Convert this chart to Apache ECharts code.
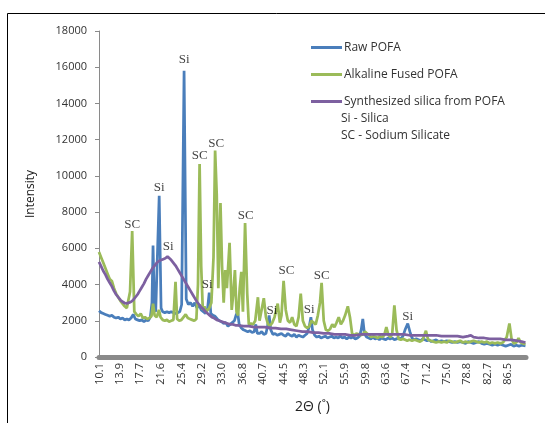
<!DOCTYPE html>
<html>
<head>
<meta charset="utf-8">
<script src="https://cdn.jsdelivr.net/npm/echarts@6/dist/echarts.min.js"></script>
<style>html,body{margin:0;padding:0;background:#fff;}#c{width:545px;height:423px;}</style>
</head>
<body>
<div id="c"></div>
<script>
const xTickLabels = [10.1,13.9,17.7,21.6,25.4,29.2,33.0,36.8,40.7,44.5,48.3,52.1,55.9,59.8,63.6,67.4,71.2,75.0,78.8,82.7,86.5];
const seriesNames = ['Raw POFA','Alkaline Fused POFA','Synthesized silica from POFA'];
const noteLines = ['Si - Silica','SC - Sodium Silicate'];

const rawPofa = [[10.0,2550],[10.4,2450],[10.8,2400],[11.2,2350],[11.6,2300],[12.0,2250],[12.4,2300],[12.8,2200],[13.2,2150],[13.6,2200],[14.0,2100],[14.4,2150],[14.8,2050],[15.2,2100],[15.6,2050],[16.0,2150],[16.4,2350],[16.8,2100],[17.2,2050],[17.6,2000],[18.0,2050],[18.4,1950],[18.8,2050],[19.2,2000],[19.6,2200],[19.9,3000],[20.1,6150],[20.35,2700],[20.6,2500],[20.9,2600],[21.25,8900],[21.6,2700],[21.9,2500],[22.3,2450],[22.7,2500],[23.1,2450],[23.5,2500],[23.9,2450],[24.3,2400],[24.7,2450],[25.1,2500],[25.45,2900],[25.9,15800],[26.3,3200],[26.7,2900],[27.1,3000],[27.5,2800],[27.9,3000],[28.3,2700],[28.7,2900],[29.1,2600],[29.5,2500],[29.9,2400],[30.3,2700],[30.6,3550],[30.9,2400],[31.3,2300],[31.7,2250],[32.1,2100],[32.5,2000],[32.9,1950],[33.3,1850],[33.7,1900],[34.1,1700],[34.5,1800],[34.9,1900],[35.3,2000],[35.6,2300],[35.9,2500],[36.2,1800],[36.6,1600],[37.0,1500],[37.4,1450],[37.8,1400],[38.2,1450],[38.6,1350],[39.0,1400],[39.3,1800],[39.6,1300],[40.0,1300],[40.4,1400],[40.8,1250],[41.2,1300],[41.5,1700],[41.8,2300],[42.1,1500],[42.5,1250],[42.9,1300],[43.3,1200],[43.7,1250],[44.1,1300],[44.5,1200],[44.9,1150],[45.3,1300],[45.7,1200],[46.1,1150],[46.5,1250],[46.9,1100],[47.3,1200],[47.7,1150],[48.1,1100],[48.5,1200],[48.9,1300],[49.3,1700],[49.6,2200],[49.9,1500],[50.3,1200],[50.7,1100],[51.1,1150],[51.5,1050],[51.9,1100],[52.3,1150],[52.7,1050],[53.1,1100],[53.5,1150],[53.9,1050],[54.3,1100],[54.7,1050],[55.1,1150],[55.5,1050],[55.9,1100],[56.3,1000],[56.7,1100],[57.1,1050],[57.5,1100],[57.9,1000],[58.3,1050],[58.7,1150],[59.0,1500],[59.3,2100],[59.6,1300],[60.0,1100],[60.4,1050],[60.8,1000],[61.2,1100],[61.6,1000],[62.0,1050],[62.4,950],[62.8,1050],[63.2,1000],[63.6,950],[64.0,1050],[64.4,1000],[64.8,1050],[65.2,950],[65.6,1000],[66.0,1050],[66.4,1000],[66.8,1150],[67.2,1500],[67.7,1850],[68.1,1400],[68.5,1050],[68.9,950],[69.3,1000],[69.7,950],[70.1,900],[70.5,1000],[70.9,950],[71.3,900],[71.7,950],[72.1,850],[72.5,900],[73.0,950],[73.5,850],[74.0,900],[74.5,850],[75.0,900],[75.5,850],[76.0,800],[76.5,850],[77.0,800],[77.5,850],[78.0,800],[78.5,750],[79.0,850],[79.5,800],[80.0,750],[80.5,800],[81.0,850],[81.5,750],[82.0,700],[82.5,750],[83.0,700],[83.5,650],[84.0,700],[84.5,650],[85.0,700],[85.5,650],[86.0,600],[86.5,650],[87.0,700],[87.5,600],[88.0,650],[88.5,600],[89.0,650],[89.7,620]];

const alkalineFused = [[10.0,5800],[10.4,5500],[10.8,5200],[11.2,4900],[11.6,4600],[12.0,4300],[12.4,4200],[12.8,3800],[13.2,3500],[13.6,3300],[14.0,3100],[14.4,2950],[14.8,2800],[15.2,2700],[15.5,2650],[15.8,3600],[16.2,6950],[16.6,2500],[17.0,2350],[17.4,2250],[17.8,2400],[18.2,2150],[18.6,2200],[19.0,2100],[19.4,2150],[19.8,2250],[20.1,2950],[20.4,2300],[20.8,2200],[21.2,2600],[21.5,2200],[21.9,2050],[22.3,2000],[22.7,2050],[23.1,1950],[23.5,2000],[23.9,2050],[24.3,4150],[24.6,2100],[25.0,2000],[25.4,2050],[25.8,2200],[26.2,2350],[26.6,2150],[27.0,2100],[27.4,2050],[27.8,2000],[28.2,2100],[28.5,4000],[28.8,10650],[29.1,5000],[29.4,2600],[29.7,2800],[30.0,2500],[30.3,2400],[30.6,2700],[31.0,3000],[31.4,5500],[31.7,11400],[32.0,9000],[32.3,3800],[32.7,8500],[33.0,5000],[33.3,3000],[33.6,4800],[33.9,3800],[34.4,6300],[34.8,2600],[35.1,3500],[35.4,4800],[35.7,2500],[36.0,2300],[36.3,3800],[36.6,4700],[36.9,2500],[37.3,7400],[37.7,3500],[38.0,1800],[38.4,1850],[38.8,1800],[39.2,2000],[39.7,3300],[40.0,2000],[40.3,1900],[40.8,3250],[41.2,2200],[41.6,1800],[42.0,1750],[42.4,1900],[42.8,2200],[43.4,2950],[43.8,1900],[44.1,2300],[44.5,4200],[44.9,2600],[45.3,2000],[45.7,1900],[46.1,2200],[46.5,1800],[46.9,1700],[47.3,2200],[47.7,3500],[48.1,2000],[48.5,1700],[48.9,1600],[49.3,1700],[49.7,2000],[50.1,1900],[50.5,1800],[50.9,2300],[51.3,3000],[51.6,4100],[52.0,2000],[52.4,1500],[52.8,1450],[53.2,1550],[53.6,1800],[54.0,1650],[54.4,1900],[54.8,2200],[55.2,1800],[55.6,2000],[56.0,2300],[56.5,2800],[56.9,2200],[57.3,1300],[57.7,1200],[58.1,1300],[58.5,1250],[58.9,1200],[59.3,1250],[59.7,1400],[60.1,1300],[60.5,1200],[60.9,1100],[61.3,1150],[61.7,1100],[62.1,1050],[62.5,1150],[62.9,1100],[63.3,1200],[63.7,1650],[64.1,1200],[64.5,1100],[64.8,1300],[65.2,2850],[65.6,1500],[66.0,1000],[66.4,950],[66.8,1000],[67.2,950],[67.6,900],[68.0,950],[68.5,900],[69.0,950],[69.5,900],[70.0,850],[70.5,950],[71.1,1450],[71.5,950],[72.0,900],[72.5,850],[73.0,800],[73.5,850],[74.0,800],[74.5,850],[75.0,800],[75.5,900],[76.0,850],[76.5,800],[77.0,850],[77.5,900],[78.0,800],[78.5,850],[79.0,800],[79.5,850],[80.0,900],[80.5,850],[81.0,800],[81.5,850],[82.0,800],[82.5,850],[83.0,750],[83.5,800],[84.0,750],[84.5,800],[85.0,750],[85.5,800],[86.2,1100],[86.7,1850],[87.1,1000],[87.5,750],[88.0,800],[88.4,1050],[88.8,800],[89.2,750],[89.7,700]];

const synthSilica = [[10.0,5250],[10.4,5000],[10.8,4750],[11.2,4550],[11.6,4300],[12.0,4100],[12.4,3900],[12.8,3650],[13.2,3450],[13.6,3300],[14.0,3150],[14.4,3050],[14.8,2980],[15.2,2960],[15.6,3000],[16.0,3050],[16.4,3150],[16.8,3300],[17.2,3450],[17.6,3650],[18.0,3850],[18.4,4050],[18.8,4300],[19.2,4500],[19.6,4700],[20.0,4900],[20.4,5050],[20.8,5200],[21.2,5300],[21.6,5350],[22.0,5400],[22.4,5450],[22.8,5550],[23.1,5450],[23.5,5350],[23.9,5200],[24.3,5050],[24.7,4850],[25.1,4650],[25.5,4450],[25.9,4250],[26.3,4050],[26.7,3850],[27.1,3650],[27.5,3450],[27.9,3250],[28.3,3050],[28.7,2900],[29.1,2750],[29.5,2650],[29.9,2500],[30.3,2400],[30.7,2300],[31.1,2200],[31.5,2150],[32.0,2050],[32.5,2000],[33.0,1950],[33.5,1900],[34.0,1850],[34.5,1800],[35.0,1800],[35.5,1750],[36.0,1750],[37.0,1700],[38.0,1700],[39.0,1650],[40.0,1650],[41.0,1650],[42.0,1600],[43.0,1600],[44.0,1550],[45.0,1550],[46.0,1500],[47.0,1450],[48.0,1400],[49.0,1400],[50.0,1350],[51.0,1350],[52.0,1300],[53.0,1300],[54.0,1250],[55.0,1250],[56.0,1250],[57.0,1200],[58.0,1200],[59.0,1250],[60.0,1250],[61.0,1250],[62.0,1250],[63.0,1250],[64.0,1250],[65.0,1250],[66.0,1250],[67.0,1250],[68.0,1200],[69.0,1200],[70.0,1200],[71.0,1200],[72.0,1200],[73.0,1200],[74.0,1150],[75.0,1150],[76.0,1150],[77.0,1150],[78.0,1100],[79.0,1150],[79.5,1200],[80.0,1100],[81.0,1050],[82.0,1050],[83.0,1000],[84.0,1000],[85.0,1000],[86.0,950],[87.0,950],[88.0,900],[89.0,850],[89.7,800]];

const peakNotes = [
  {name:'SC', value:[16.2,7300]},
  {name:'Si', value:[21.25,9350]},
  {name:'Si', value:[25.9,16400]},
  {name:'Si', value:[22.95,6100]},
  {name:'SC', value:[28.8,11100]},
  {name:'SC', value:[31.9,11800]},
  {name:'Si', value:[30.2,4000]},
  {name:'SC', value:[37.4,7800]},
  {name:'Si', value:[42.3,2580]},
  {name:'SC', value:[45.05,4780]},
  {name:'Si', value:[49.3,2620]},
  {name:'SC', value:[51.6,4520]},
  {name:'Si', value:[67.7,2250]}
];

const colors = ['#4a7ebb','#9bbb59','#7d60a0'];
const chart = echarts.init(document.getElementById('c'));
const fontSans = '"Open Sans", "Noto Sans", sans-serif';
chart.setOption({
  animation: false,
  backgroundColor: '#fff',
  color: colors,
  grid: {left: 99, right: 19, top: 31, bottom: 66, containLabel: false},
  legend: {
    orient: 'vertical', left: 306, top: 35, itemWidth: 31, itemHeight: 3, itemGap: 12,
    icon: 'rect', data: seriesNames,
    textStyle: {fontFamily: fontSans, fontSize: 12, color: '#333', lineHeight: 15, padding: [0,0,0,-3]}
  },
  xAxis: {
    type: 'value', min: 10.0, max: 89.8,
    name: '2Θ (˚)', nameLocation: 'middle', nameGap: 43,
    nameTextStyle: {fontFamily: fontSans, fontSize: 14, color: '#222'},
    axisLine: {show: true, onZero: false, lineStyle: {color: '#8a8a8a', width: 5}},
    axisTick: {show: false},
    splitLine: {show: false},
    axisLabel: {
      customValues: xTickLabels, rotate: 90, margin: 6,
      fontFamily: fontSans, fontSize: 11, color: '#333',
      formatter: v => v.toFixed(1)
    }
  },
  yAxis: {
    type: 'value', min: 0, max: 18000, interval: 2000,
    name: 'Intensity', nameLocation: 'middle', nameGap: 62, nameRotate: 90,
    nameTextStyle: {fontFamily: fontSans, fontSize: 12, color: '#222'},
    axisLine: {show: true, lineStyle: {color: '#8a8a8a', width: 1}},
    axisTick: {show: true, length: 4, lineStyle: {color: '#8a8a8a'}},
    splitLine: {show: false},
    axisLabel: {fontFamily: fontSans, fontSize: 11, color: '#333', margin: 12, formatter: v => String(v)}
  },
  graphic: [
    {type: 'rect', shape: {x: 7.5, y: 13.5, width: 560, height: 440}, style: {fill: 'none', stroke: '#000', lineWidth: 1}, silent: true},
    {type: 'text', left: 341, top: 113, style: {text: noteLines[0], font: '12px ' + fontSans, fill: '#333'}},
    {type: 'text', left: 341, top: 130, style: {text: noteLines[1], font: '12px ' + fontSans, fill: '#333'}}
  ],
  series: [
    {name: seriesNames[0], type: 'line', data: rawPofa, symbol: 'none', lineStyle: {width: 2.75, color: colors[0]}, itemStyle: {color: colors[0]}, z: 2},
    {name: seriesNames[1], type: 'line', data: alkalineFused, symbol: 'none', lineStyle: {width: 2.75, color: colors[1]}, itemStyle: {color: colors[1]}, z: 3},
    {name: seriesNames[2], type: 'line', data: synthSilica, symbol: 'none', lineStyle: {width: 2.75, color: colors[2]}, itemStyle: {color: colors[2]}, z: 4},
    {name: 'notes', type: 'scatter', data: peakNotes, symbolSize: 1, itemStyle: {color: 'rgba(0,0,0,0)'}, silent: true, z: 5,
      label: {show: true, position: 'inside', formatter: p => p.data.name, fontFamily: '"Liberation Serif", "DejaVu Serif", serif', fontSize: 13, color: '#111'}}
  ]
});
</script>
</body>
</html>
